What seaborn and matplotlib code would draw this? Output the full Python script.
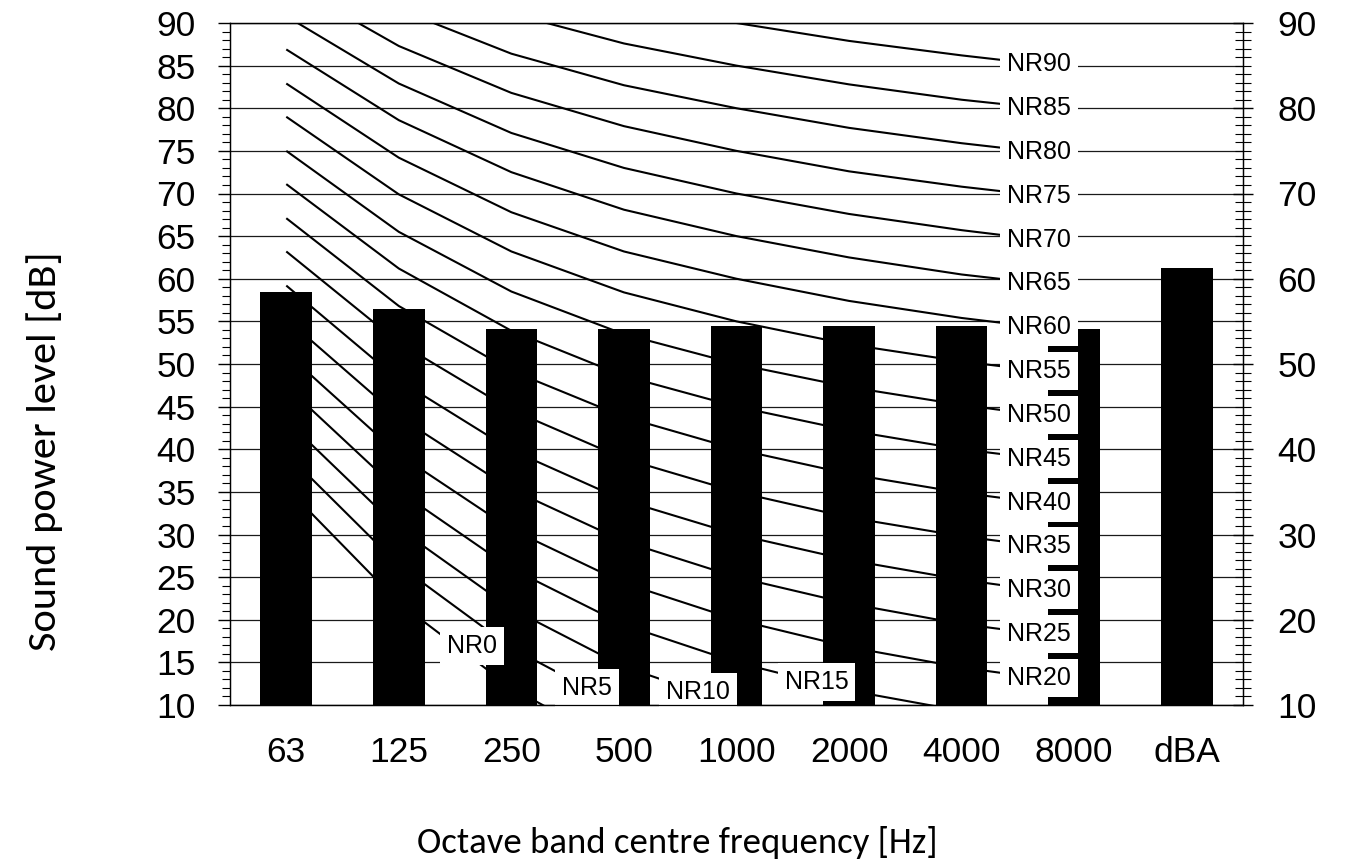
import numpy as np
import pandas as pd
import seaborn as sns
import matplotlib.pyplot as plt
from matplotlib.ticker import MultipleLocator

# Octave band levels of the unit (last bar = overall dBA)
bands = ["63", "125", "250", "500", "1000", "2000", "4000", "8000", "dBA"]
levels = [58.4, 56.5, 54.1, 54.1, 54.5, 54.5, 54.5, 54.1, 61.3]

# NR curves (63 Hz ... 8000 Hz)
nr_ratings = [0, 5, 10, 15, 20, 25, 30, 35, 40, 45, 50, 55, 60, 65, 70, 75, 80, 85, 90]
nr_table = [
    [35.5, 22.0, 12.0, 4.8, 0.0, -3.5, -6.1, -8.0],
    [39.5, 26.4, 16.7, 9.7, 5.0, 1.6, -1.0, -2.9],
    [43.4, 30.7, 21.3, 14.5, 10.0, 6.7, 4.2, 2.3],
    [47.4, 35.1, 26.0, 19.4, 15.0, 11.7, 9.3, 7.5],
    [51.3, 39.4, 30.6, 24.3, 20.0, 16.8, 14.4, 12.6],
    [55.3, 43.8, 35.3, 29.2, 25.0, 21.9, 19.5, 17.8],
    [59.2, 48.1, 39.9, 34.0, 30.0, 27.0, 24.7, 22.9],
    [63.2, 52.5, 44.6, 38.9, 35.0, 32.0, 29.8, 28.1],
    [67.1, 56.8, 49.2, 43.8, 40.0, 37.1, 34.9, 33.2],
    [71.1, 61.2, 53.9, 48.6, 45.0, 42.2, 40.0, 38.4],
    [75.0, 65.5, 58.5, 53.5, 50.0, 47.3, 45.2, 43.5],
    [79.0, 69.9, 63.2, 58.4, 55.0, 52.3, 50.3, 48.7],
    [82.9, 74.2, 67.8, 63.2, 60.0, 57.4, 55.4, 53.8],
    [86.9, 78.6, 72.5, 68.1, 65.0, 62.5, 60.5, 59.0],
    [90.8, 82.9, 77.1, 73.0, 70.0, 67.6, 65.7, 64.1],
    [94.8, 87.3, 81.8, 77.9, 75.0, 72.6, 70.8, 69.3],
    [98.7, 91.6, 86.4, 82.7, 80.0, 77.7, 75.9, 74.4],
    [102.7, 96.0, 91.1, 87.6, 85.0, 82.8, 81.0, 79.6],
    [106.6, 100.3, 95.7, 92.5, 90.0, 87.9, 86.2, 84.7],
]

# where along the x axis each NR label sits (category units) and its vertical nudge (pt)
label_x = [1.65, 2.67, 3.66, 4.71] + [6.69] * 15
label_dy = [9, 0, 0, 0] + [0] * 15

tick_font = ["Liberation Sans", "DejaVu Sans"]
title_font = ["Carlito", "Lato", "DejaVu Sans"]

sns.set_theme(style="white")
plt.rcParams["font.family"] = tick_font
plt.rcParams["text.color"] = "black"
plt.rcParams["xtick.color"] = "black"
plt.rcParams["ytick.color"] = "black"
plt.rcParams["axes.labelcolor"] = "black"

df_bars = pd.DataFrame({"band": bands, "level": levels})
pos = np.arange(len(bands) - 1)
df_nr = pd.DataFrame([
    {"pos": p, "level": v, "rating": r}
    for r, row in zip(nr_ratings, nr_table)
    for p, v in zip(pos, row)
])

fig = plt.figure(figsize=(13.53, 8.66), dpi=100)
ax = fig.add_axes([230 / 1353, 1 - 705 / 866, (1243 - 230) / 1353, (705 - 23) / 866])

# NR curves behind the bars
sns.lineplot(data=df_nr, x="pos", y="level", units="rating", estimator=None,
             sort=False, color="black", linewidth=1.5, ax=ax, zorder=2, legend=False,
             solid_capstyle="butt")

# bars on top
sns.barplot(data=df_bars, x="band", y="level", color="black", saturation=1,
            width=0.46, linewidth=0, ax=ax, zorder=3)

ax.set_xlim(-0.5, len(bands) - 0.5)
ax.set_ylim(10, 90)
ax.set_yticks(range(10, 91, 5))
ax.yaxis.set_minor_locator(MultipleLocator(1))
ax.yaxis.grid(True, which="major", color="#1a1a1a", linewidth=0.9, zorder=0.5)
ax.set_axisbelow(True)
ax.set_xlabel("")
ax.set_ylabel("")
ax.tick_params(axis="x", length=0, pad=22, labelsize=25.5, labelcolor="black")
ax.tick_params(axis="y", which="major", direction="out", length=8.6, width=1,
               color="black", pad=16, labelsize=25.5, labelcolor="black", left=True)
ax.tick_params(axis="y", which="minor", direction="out", length=5.8, width=0.8,
               color="black", left=True)
for side, sp in ax.spines.items():
    sp.set_color("black")
    sp.set_linewidth(0.9)

# NR labels
for r, row, lx, dy in zip(nr_ratings, nr_table, label_x, label_dy):
    ly = np.interp(lx, pos, row)
    ax.annotate(f"NR{r}", xy=(lx, ly), xytext=(0, dy), textcoords="offset points",
                ha="center", va="center", fontsize=18, color="black", zorder=6,
                bbox=dict(boxstyle="square,pad=0.28", fc="white", ec="none"))

# right hand scale
ax2 = ax.twinx()
ax2.set_ylim(10, 90)
ax2.set_yticks(range(10, 91, 10))
ax2.yaxis.set_minor_locator(MultipleLocator(1))
ax2.tick_params(axis="y", which="major", direction="inout", length=13.7, width=1,
                color="black", pad=18, labelsize=25.5, labelcolor="black", right=True)
ax2.tick_params(axis="y", which="minor", direction="inout", length=11.5, width=0.8,
                color="black", right=True)
ax2.grid(False)
for side, sp in ax2.spines.items():
    sp.set_color("black")
    sp.set_linewidth(0.9)

fig.text(677 / 1353, 1 - 853 / 866, "Octave band centre frequency [Hz]",
         ha="center", va="baseline", fontsize=26.5, family=title_font)
fig.text(45 / 1353, 1 - 451 / 866, "Sound power level [dB]", rotation=90,
         ha="center", va="center", fontsize=30.5, family=title_font)

fig.savefig("out.png", dpi=100)
